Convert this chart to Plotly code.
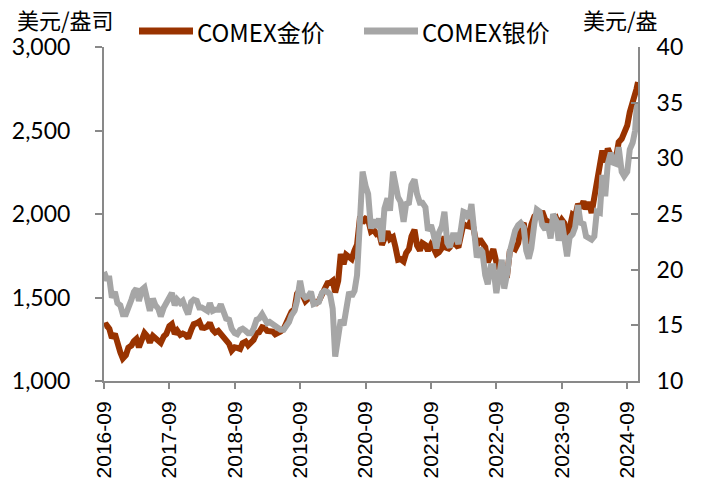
import pandas as pd
import plotly.graph_objects as go

# semi-monthly observation dates (1st and 15th), Sep 2016 - Oct 2024, plus late-Oct points
dates = list(pd.date_range("2016-09-01", "2024-10-15", freq="SMS").strftime("%Y-%m-%d")) + ["2024-10-23", "2024-10-31"]

gold = [
    # 2016 Sep-Dec
    1330, 1335, 1312, 1258, 1282, 1222, 1172, 1135,
    # 2017
    1155, 1200, 1212, 1238, 1252, 1202, 1250, 1288, 1268, 1230, 1270, 1258,
    1242, 1228, 1268, 1282, 1328, 1340, 1282, 1302, 1276, 1284, 1276, 1256,
    # 2018
    1306, 1340, 1346, 1356, 1320, 1318, 1326, 1348, 1306, 1290, 1300, 1282,
    1252, 1240, 1222, 1182, 1202, 1198, 1192, 1226, 1236, 1214, 1226, 1246,
    # 2019
    1286, 1292, 1322, 1318, 1300, 1302, 1296, 1280, 1284, 1296, 1312, 1346,
    1392, 1414, 1432, 1522, 1546, 1502, 1478, 1492, 1510, 1470, 1466, 1480,
    # 2020
    1520, 1556, 1586, 1588, 1600, 1530, 1600, 1760, 1700, 1756, 1736, 1730,
    1782, 1816, 1986, 1948, 1972, 1966, 1896, 1906, 1880, 1886, 1816, 1856,
    # 2021
    1896, 1850, 1862, 1800, 1726, 1730, 1716, 1766, 1790, 1866, 1906, 1812,
    1782, 1826, 1814, 1780, 1816, 1796, 1760, 1770, 1796, 1866, 1786, 1800,
    # 2022
    1830, 1820, 1800, 1870, 1940, 1930, 1926, 1976, 1866, 1812, 1850, 1830,
    1802, 1710, 1770, 1790, 1712, 1676, 1670, 1650, 1642, 1776, 1800, 1790,
    # 2023
    1826, 1920, 1946, 1840, 1836, 1936, 1986, 2000, 1990, 2016, 1966, 1956,
    1930, 1962, 1976, 1936, 1966, 1946, 1850, 1940, 1996, 1986, 2060, 2036,
    # 2024 Jan-Oct15
    2076, 2030, 2070, 2006, 2090, 2166, 2260, 2380, 2310, 2392, 2350, 2330,
    2340, 2430, 2450, 2490, 2530, 2610, 2670, 2690,
    # late Oct
    2750, 2790,
]

silver = [
    # 2016 Sep-Dec
    19.8, 19.2, 19.2, 17.5, 18.0, 17.0, 16.8, 16.0,
    # 2017
    16.0, 16.8, 17.3, 18.0, 18.3, 17.2, 18.2, 18.4, 17.0, 16.3, 17.4, 16.8,
    16.5, 15.8, 16.6, 17.0, 17.7, 17.9, 16.8, 17.3, 17.0, 17.2, 16.5, 16.0,
    # 2018
    17.1, 17.3, 17.2, 16.6, 16.6, 16.5, 16.3, 17.0, 16.3, 16.4, 16.4, 16.9,
    16.0, 15.6, 15.5, 14.7, 14.3, 14.2, 14.6, 14.7, 14.5, 14.3, 14.3, 14.7,
    # 2019
    15.5, 15.6, 16.0, 15.7, 15.2, 15.3, 15.1, 15.0, 14.9, 14.6, 14.6, 14.9,
    15.3, 15.9, 16.3, 17.2, 19.0, 17.8, 17.5, 17.6, 18.0, 16.9, 17.0, 17.1,
    # 2020
    17.9, 18.1, 18.0, 17.8, 16.5, 12.2, 14.0, 15.5, 15.0, 16.5, 18.0, 17.6,
    18.1, 19.5, 24.5, 28.8, 27.5, 26.8, 23.7, 24.5, 23.8, 24.6, 22.5, 25.5,
    # 2021
    26.4, 25.3, 28.8, 27.5, 26.5, 26.1, 24.3, 25.9, 26.0, 27.6, 28.1, 26.8,
    26.0, 26.0, 25.6, 23.5, 24.0, 23.2, 21.9, 23.3, 23.9, 25.2, 22.4, 22.0,
    # 2022
    23.1, 23.1, 22.3, 23.6, 25.2, 25.1, 24.6, 25.9, 22.6, 21.1, 21.9, 21.6,
    19.5, 18.7, 20.3, 20.3, 17.9, 19.4, 20.9, 18.3, 19.7, 21.6, 22.6, 23.5,
    # 2023
    24.0, 24.2, 23.8, 21.7, 21.0, 21.9, 24.1, 25.4, 25.2, 24.0, 23.6, 24.1,
    22.8, 25.0, 24.4, 22.6, 24.4, 23.2, 21.2, 22.9, 23.2, 23.8, 25.8, 24.2,
    # 2024 Jan-Oct15
    24.1, 23.0, 22.9, 22.7, 23.0, 25.2, 25.1, 28.5, 26.6, 29.5, 30.5, 29.6,
    29.5, 31.0, 28.8, 28.4, 28.8, 30.8, 31.4, 32.5,
    # late Oct
    34.5, 34.9,
]

left_ticks = [1000, 1500, 2000, 2500, 3000]
right_ticks = [10, 15, 20, 25, 30, 35, 40]
x_ticks = ["2016-09-01", "2017-09-01", "2018-09-01", "2019-09-01", "2020-09-01",
           "2021-09-01", "2022-09-01", "2023-09-01", "2024-09-01"]
x_labels = [d[:7] for d in x_ticks]

GOLD_C = "#993300"
SILVER_C = "#A6A6A6"
AXIS_C = "#898989"
FONT_NUM = "Lato"
FONT_CJK = "Noto Sans CJK SC"

L, R, T, B = 104, 638, 47, 381
W, H = 705, 493

fig = go.Figure()
fig.add_trace(go.Scatter(x=dates, y=gold, mode="lines", name="COMEX金价",
                         line=dict(color=GOLD_C, width=6), yaxis="y", showlegend=False))
fig.add_trace(go.Scatter(x=dates, y=silver, mode="lines", name="COMEX银价",
                         line=dict(color=SILVER_C, width=6), yaxis="y2", showlegend=False))

fig.update_layout(
    width=W, height=H,
    margin=dict(l=L, r=W - R, t=T, b=H - B, autoexpand=False),
    paper_bgcolor="white", plot_bgcolor="white",
    font=dict(family=FONT_NUM, color="black", size=21),
    xaxis=dict(
        range=["2016-09-01", "2024-10-31"], automargin=False,
        tickmode="array", tickvals=x_ticks, ticktext=x_labels,
        tickangle=-90, tickfont=dict(family="Liberation Sans", size=21),
        showline=True, linecolor=AXIS_C, linewidth=2,
        ticks="outside", ticklen=6, tickcolor=AXIS_C, tickwidth=2,
        showgrid=False, zeroline=False, ticklabelstandoff=4,
    ),
    yaxis=dict(
        range=[1000, 3000], automargin=False, tickmode="array", tickvals=left_ticks,
        ticktext=[f"{v:,}" for v in left_ticks],
        tickfont=dict(family=FONT_NUM, size=23),
        showline=True, linecolor=AXIS_C, linewidth=2,
        ticks="outside", ticklen=7, tickcolor=AXIS_C, tickwidth=2,
        showgrid=False, zeroline=False, ticklabelstandoff=20,
    ),
    yaxis2=dict(
        range=[10, 40], automargin=False, tickmode="array", tickvals=right_ticks,
        ticktext=[str(v) for v in right_ticks],
        tickfont=dict(family=FONT_NUM, size=23),
        overlaying="y", side="right",
        showline=True, linecolor=AXIS_C, linewidth=2,
        ticks="inside", ticklen=7, tickcolor=AXIS_C, tickwidth=2,
        showgrid=False, zeroline=False, ticklabelstandoff=12,
    ),
)

def fx(x):
    return (x - L) / (R - L)

def fy(y):
    return (B - y) / (B - T)

# legend drawn manually (long line samples)
for x0, x1, col in [(139, 193, GOLD_C), (364, 418, SILVER_C)]:
    fig.add_shape(type="line", xref="paper", yref="paper",
                  x0=fx(x0), x1=fx(x1), y0=fy(31), y1=fy(31),
                  line=dict(color=col, width=7))

def px_ann(text, x, y, anchor, family, size):
    fig.add_annotation(text=text, xref="paper", yref="paper",
                       x=fx(x), y=fy(y), xanchor=anchor, yanchor="middle",
                       showarrow=False, borderpad=0,
                       font=dict(family=family, size=size, color="black"))

px_ann("COMEX金价", 196, 31, "left", FONT_CJK, 24)
px_ann("COMEX银价", 421, 31, "left", FONT_CJK, 24)
px_ann("美元/盎司", 16, 19, "left", FONT_CJK, 22)
px_ann("美元/盎", 582, 19, "left", FONT_CJK, 22)

fig.write_html(
    "out.html",
    config={"displayModeBar": False},
    post_script="document.body.style.margin='0';document.body.style.padding='0';",
)
